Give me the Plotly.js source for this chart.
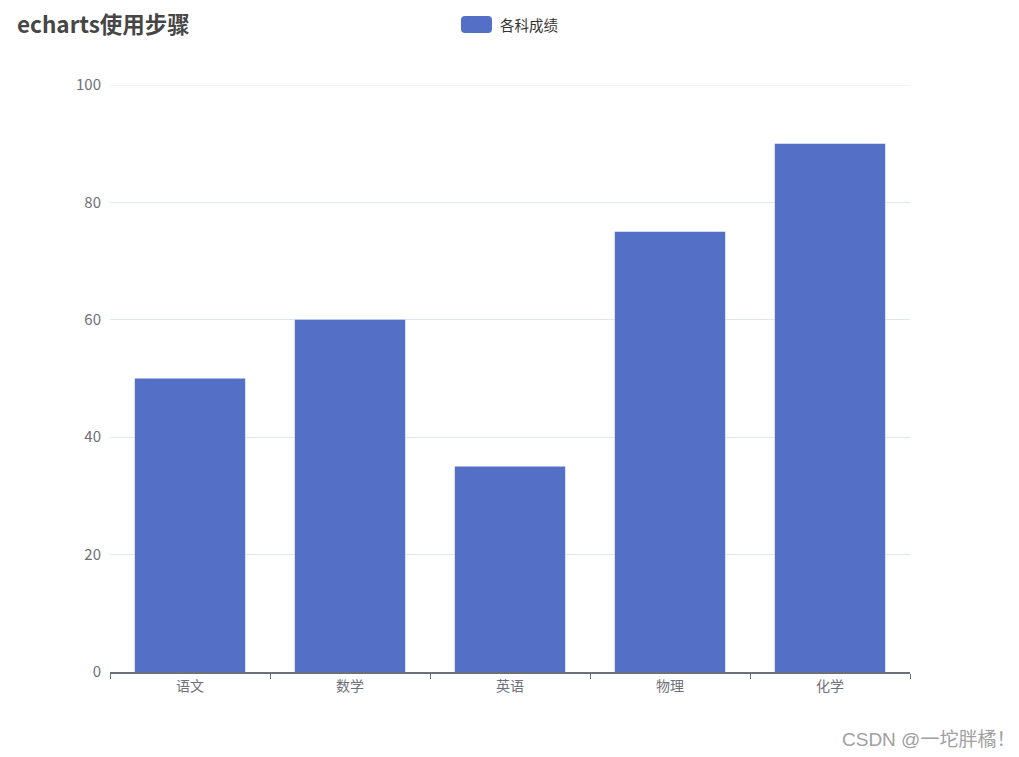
<!DOCTYPE html>
<html>
<head>
<meta charset="utf-8">
<script src="https://cdn.plot.ly/plotly-3.0.1.min.js"></script>
<style>html,body{margin:0;padding:0;background:#fff;}#chart{width:1019px;height:757px;}</style>
</head>
<body>
<div id="chart"></div>
<script>
const categories = ['语文', '数学', '英语', '物理', '化学'];
const scores = [50, 60, 35, 75, 90];
const seriesName = '各科成绩';
const chartTitle = 'echarts使用步骤';
const watermark = 'CSDN @一坨胖橘！';
const yMax = 100;

const W = 1019, H = 757;
const L = 110, R = 910, T = 85, B = 672;
const px = x => (x - L) / (R - L);
const py = y => (B - y) / (B - T);

const font = '"Noto Sans CJK SC", "Noto Sans", sans-serif';
const color = '#5470c6';

// rounded legend icon
const x0 = 461, x1 = 492, y0 = 16, y1 = 33, r = 4;
const iconPath = 'M' + px(x0 + r) + ',' + py(y0) +
  ' L' + px(x1 - r) + ',' + py(y0) +
  ' Q' + px(x1) + ',' + py(y0) + ' ' + px(x1) + ',' + py(y0 + r) +
  ' L' + px(x1) + ',' + py(y1 - r) +
  ' Q' + px(x1) + ',' + py(y1) + ' ' + px(x1 - r) + ',' + py(y1) +
  ' L' + px(x0 + r) + ',' + py(y1) +
  ' Q' + px(x0) + ',' + py(y1) + ' ' + px(x0) + ',' + py(y1 - r) +
  ' L' + px(x0) + ',' + py(y0 + r) +
  ' Q' + px(x0) + ',' + py(y0) + ' ' + px(x0 + r) + ',' + py(y0) + ' Z';

const data = [{
  type: 'bar',
  x: categories,
  y: scores,
  name: seriesName,
  marker: {color: color, line: {width: 0}},
  hoverinfo: 'x+y'
}];

const layout = {
  width: W, height: H,
  margin: {l: L, r: W - R, t: T, b: H - B},
  paper_bgcolor: '#fff', plot_bgcolor: '#fff',
  showlegend: false,
  bargap: 0.31,
  font: {family: font, size: 14, color: '#6E7079'},
  title: {
    text: '<b>' + chartTitle + '</b>',
    xref: 'container', yref: 'container',
    x: 17 / W, xanchor: 'left',
    y: 1 - 25 / H, yanchor: 'middle',
    font: {family: font, size: 22.5, color: '#464646'}
  },
  xaxis: {
    type: 'category',
    showline: true, linecolor: '#6E7079', linewidth: 1.5,
    ticks: 'outside', tickson: 'boundaries', ticklen: 5, tickcolor: '#6E7079', tickwidth: 1,
    showgrid: false, zeroline: false,
    tickfont: {family: font, size: 14, color: '#6E7079'}
  },
  yaxis: {
    range: [0, yMax], tickvals: [0, 20, 40, 60, 80, 100],
    showline: false, ticks: '', zeroline: false,
    showgrid: true, gridcolor: '#E0E6F1', gridwidth: 1,
    tickfont: {family: font, size: 15, color: '#6E7079'},
    ticklabelstandoff: 8
  },
  shapes: [{
    type: 'path', xref: 'paper', yref: 'paper',
    path: iconPath, fillcolor: color, line: {width: 0}
  }, {
    type: 'line', xref: 'paper', yref: 'y',
    x0: 0, x1: 1, y0: yMax, y1: yMax,
    line: {color: '#E0E6F1', width: 1}, layer: 'below'
  }],
  annotations: [{
    xref: 'paper', yref: 'paper',
    x: px(498), y: py(24.5), xanchor: 'left', yanchor: 'middle',
    text: seriesName, showarrow: false,
    font: {family: font, size: 14.5, color: '#333'}
  }, {
    xref: 'paper', yref: 'paper',
    x: px(1017), y: py(739), xanchor: 'right', yanchor: 'middle',
    text: watermark, showarrow: false,
    font: {family: '"Liberation Sans", "Noto Sans CJK SC", sans-serif', size: 19, color: '#a0a0a0'}
  }]
};

Plotly.newPlot('chart', data, layout, {displayModeBar: false, responsive: false});
</script>
</body>
</html>
